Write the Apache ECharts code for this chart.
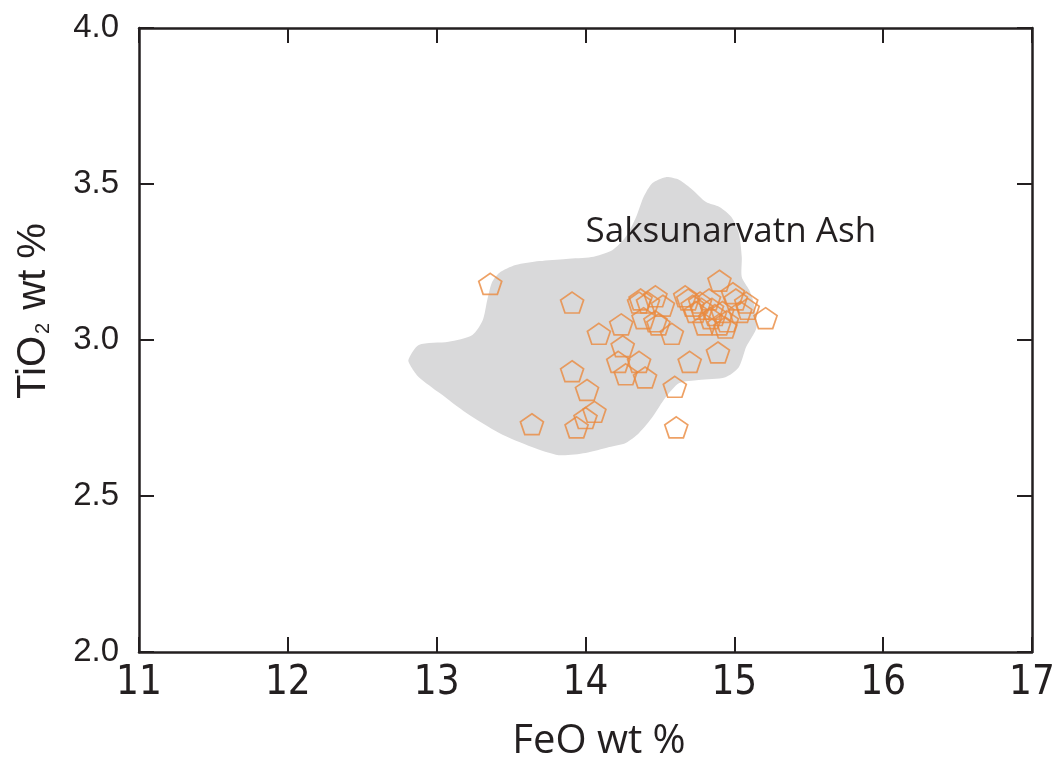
<!DOCTYPE html>
<html>
<head>
<meta charset="utf-8">
<script src="https://cdn.jsdelivr.net/npm/echarts@6/dist/echarts.min.js"></script>
<style>
html,body{margin:0;padding:0;background:#fff;}
#chart{width:1062px;height:770px;}
</style>
</head>
<body>
<div id="chart"></div>
<script>
// ---- data ----
const xTicks = [11, 12, 13, 14, 15, 16, 17];
const yTicks = [2.0, 2.5, 3.0, 3.5, 4.0];

// Saksunarvatn Ash field outline (FeO, TiO2)
const regionFeo  = [12.81,12.88,13.08,13.24,13.31,13.34,13.37,13.42,13.53,13.69,13.87,14.04,14.18,14.27,14.34,14.39,14.45,14.54,14.63,14.72,14.81,14.90,14.98,15.03,15.05,15.05,15.10,15.13,15.15,15.08,15.03,14.94,14.76,14.63,14.54,14.45,14.36,14.27,14.16,14.00,13.82,13.64,13.42,13.20,13.02,12.88,12.83];
const regionTio2 = [2.936,2.984,2.994,3.016,3.064,3.128,3.183,3.215,3.240,3.253,3.260,3.266,3.288,3.330,3.394,3.458,3.503,3.522,3.513,3.481,3.442,3.426,3.394,3.343,3.266,3.202,3.160,3.119,3.042,2.978,2.913,2.881,2.872,2.862,2.817,2.753,2.702,2.670,2.657,2.638,2.631,2.657,2.702,2.766,2.830,2.881,2.913];

// glass shard analyses
const feo  = [13.36,13.91,14.09,14.24,14.37,14.47,14.36,14.52,14.39,14.47,14.49,14.58,14.67,14.72,14.77,14.83,14.90,14.99,15.08,15.09,15.21,14.80,14.87,14.90,14.94,14.95,15.01,14.74,14.85,14.89,14.70,14.25,14.22,14.36,14.27,14.40,13.91,14.01,14.60,13.64,13.94,14.00,14.06,14.61,14.42,14.69,14.92,15.04,14.84,14.78];
const tio2 = [3.18,3.12,3.02,3.05,3.13,3.14,3.12,3.11,3.07,3.06,3.05,3.02,3.14,3.11,3.12,3.13,3.19,3.15,3.12,3.10,3.07,3.05,3.08,3.05,3.04,3.06,3.13,3.09,3.10,2.96,2.93,2.98,2.93,2.93,2.89,2.88,2.90,2.84,2.85,2.73,2.72,2.75,2.77,2.72,3.12,3.13,3.09,3.09,3.07,3.10];

const regionLabel = 'Saksunarvatn Ash';
const xName = 'FeO wt %';

// ---- chart ----
const axisColor = '#231f20';
const pentagon = 'path://M50 0 L97.55 34.55 L79.39 90.45 L20.61 90.45 L2.45 34.55 Z';

const regionData = regionFeo.map((x, i) => [x, regionTio2[i]]);
const points = feo.map((x, i) => [x, tio2[i]]);

const chart = echarts.init(document.getElementById('chart'), null, {renderer: 'canvas'});

const baseAxisLine = {show: true, lineStyle: {color: axisColor, width: 2.5}};
const baseTick = {show: true, inside: true, length: 15, lineStyle: {color: axisColor, width: 2}};

chart.setOption({
  animation: false,
  backgroundColor: '#ffffff',
  grid: {left: 139, right: 30, top: 28, bottom: 118},
  xAxis: [{
    type: 'value', min: 11, max: 17, interval: 1, position: 'bottom',
    axisLine: baseAxisLine, axisTick: baseTick, splitLine: {show: false},
    axisLabel: {
      fontSize: 40, fontFamily: '"Liberation Sans Narrow","DejaVu Sans Condensed","Liberation Sans",sans-serif',
      color: axisColor, margin: 12,
      formatter: v => xTicks.includes(v) ? String(v) : ''
    }
  }, {
    type: 'value', min: 11, max: 17, interval: 1, position: 'top',
    axisLine: baseAxisLine, axisTick: baseTick, splitLine: {show: false},
    axisLabel: {show: false}
  }],
  yAxis: [{
    type: 'value', min: 2.0, max: 4.0, interval: 0.5, position: 'left',
    axisLine: baseAxisLine, axisTick: baseTick, splitLine: {show: false},
    axisLabel: {
      fontSize: 33, fontFamily: '"Liberation Sans",Arial,sans-serif',
      color: axisColor, margin: 20,
      formatter: v => yTicks.some(t => Math.abs(t - v) < 1e-9) ? v.toFixed(1) : ''
    }
  }, {
    type: 'value', min: 2.0, max: 4.0, interval: 0.5, position: 'right',
    axisLine: baseAxisLine, axisTick: baseTick, splitLine: {show: false},
    axisLabel: {show: false}
  }],
  graphic: [{
    type: 'text',
    x: 599, y: 742,
    style: {
      text: xName,
      fontSize: 40, fontFamily: '"Open Sans",sans-serif', fill: axisColor,
      align: 'center', verticalAlign: 'middle'
    }
  }, {
    type: 'text',
    x: 34, y: 311, rotation: Math.PI / 2,
    style: {
      text: '{a|TiO}{b|2}{a| wt %}',
      align: 'center', verticalAlign: 'middle',
      fill: axisColor,
      rich: {
        a: {fontSize: 40, fontFamily: '"Liberation Sans",Arial,sans-serif', fill: axisColor, lineHeight: 44},
        b: {fontSize: 20, fontFamily: '"Liberation Sans",Arial,sans-serif', fill: axisColor, lineHeight: 44, padding: [18, 2, 0, 2]}
      }
    }
  }],
  series: [{
    type: 'custom',
    coordinateSystem: 'cartesian2d',
    xAxisIndex: 0, yAxisIndex: 0,
    z: 1,
    silent: true,
    data: regionData,
    renderItem: function (params, api) {
      if (params.dataIndex !== 0) return null;
      const pts = regionData.map(p => api.coord(p));
      return {
        type: 'polygon',
        shape: {points: pts, smooth: 0.25},
        style: {fill: '#d9d9da', stroke: null}
      };
    }
  }, {
    type: 'custom',
    coordinateSystem: 'cartesian2d',
    xAxisIndex: 0, yAxisIndex: 0,
    z: 3,
    silent: true,
    data: [[14.0, 3.346]],
    renderItem: function (params, api) {
      const c = api.coord([api.value(0), api.value(1)]);
      return {
        type: 'text',
        x: c[0], y: c[1],
        style: {
          text: regionLabel,
          fontSize: 35, fontFamily: '"Open Sans",sans-serif',
          fill: '#231f20', align: 'left', verticalAlign: 'middle'
        }
      };
    }
  }, {
    type: 'scatter',
    xAxisIndex: 0, yAxisIndex: 0,
    z: 4,
    data: points,
    symbol: pentagon,
    symbolSize: [23, 22],
    symbolKeepAspect: true,
    itemStyle: {color: 'rgba(0,0,0,0)', borderColor: '#ea8a3e', borderWidth: 1.7}
  }]
});
</script>
</body>
</html>
